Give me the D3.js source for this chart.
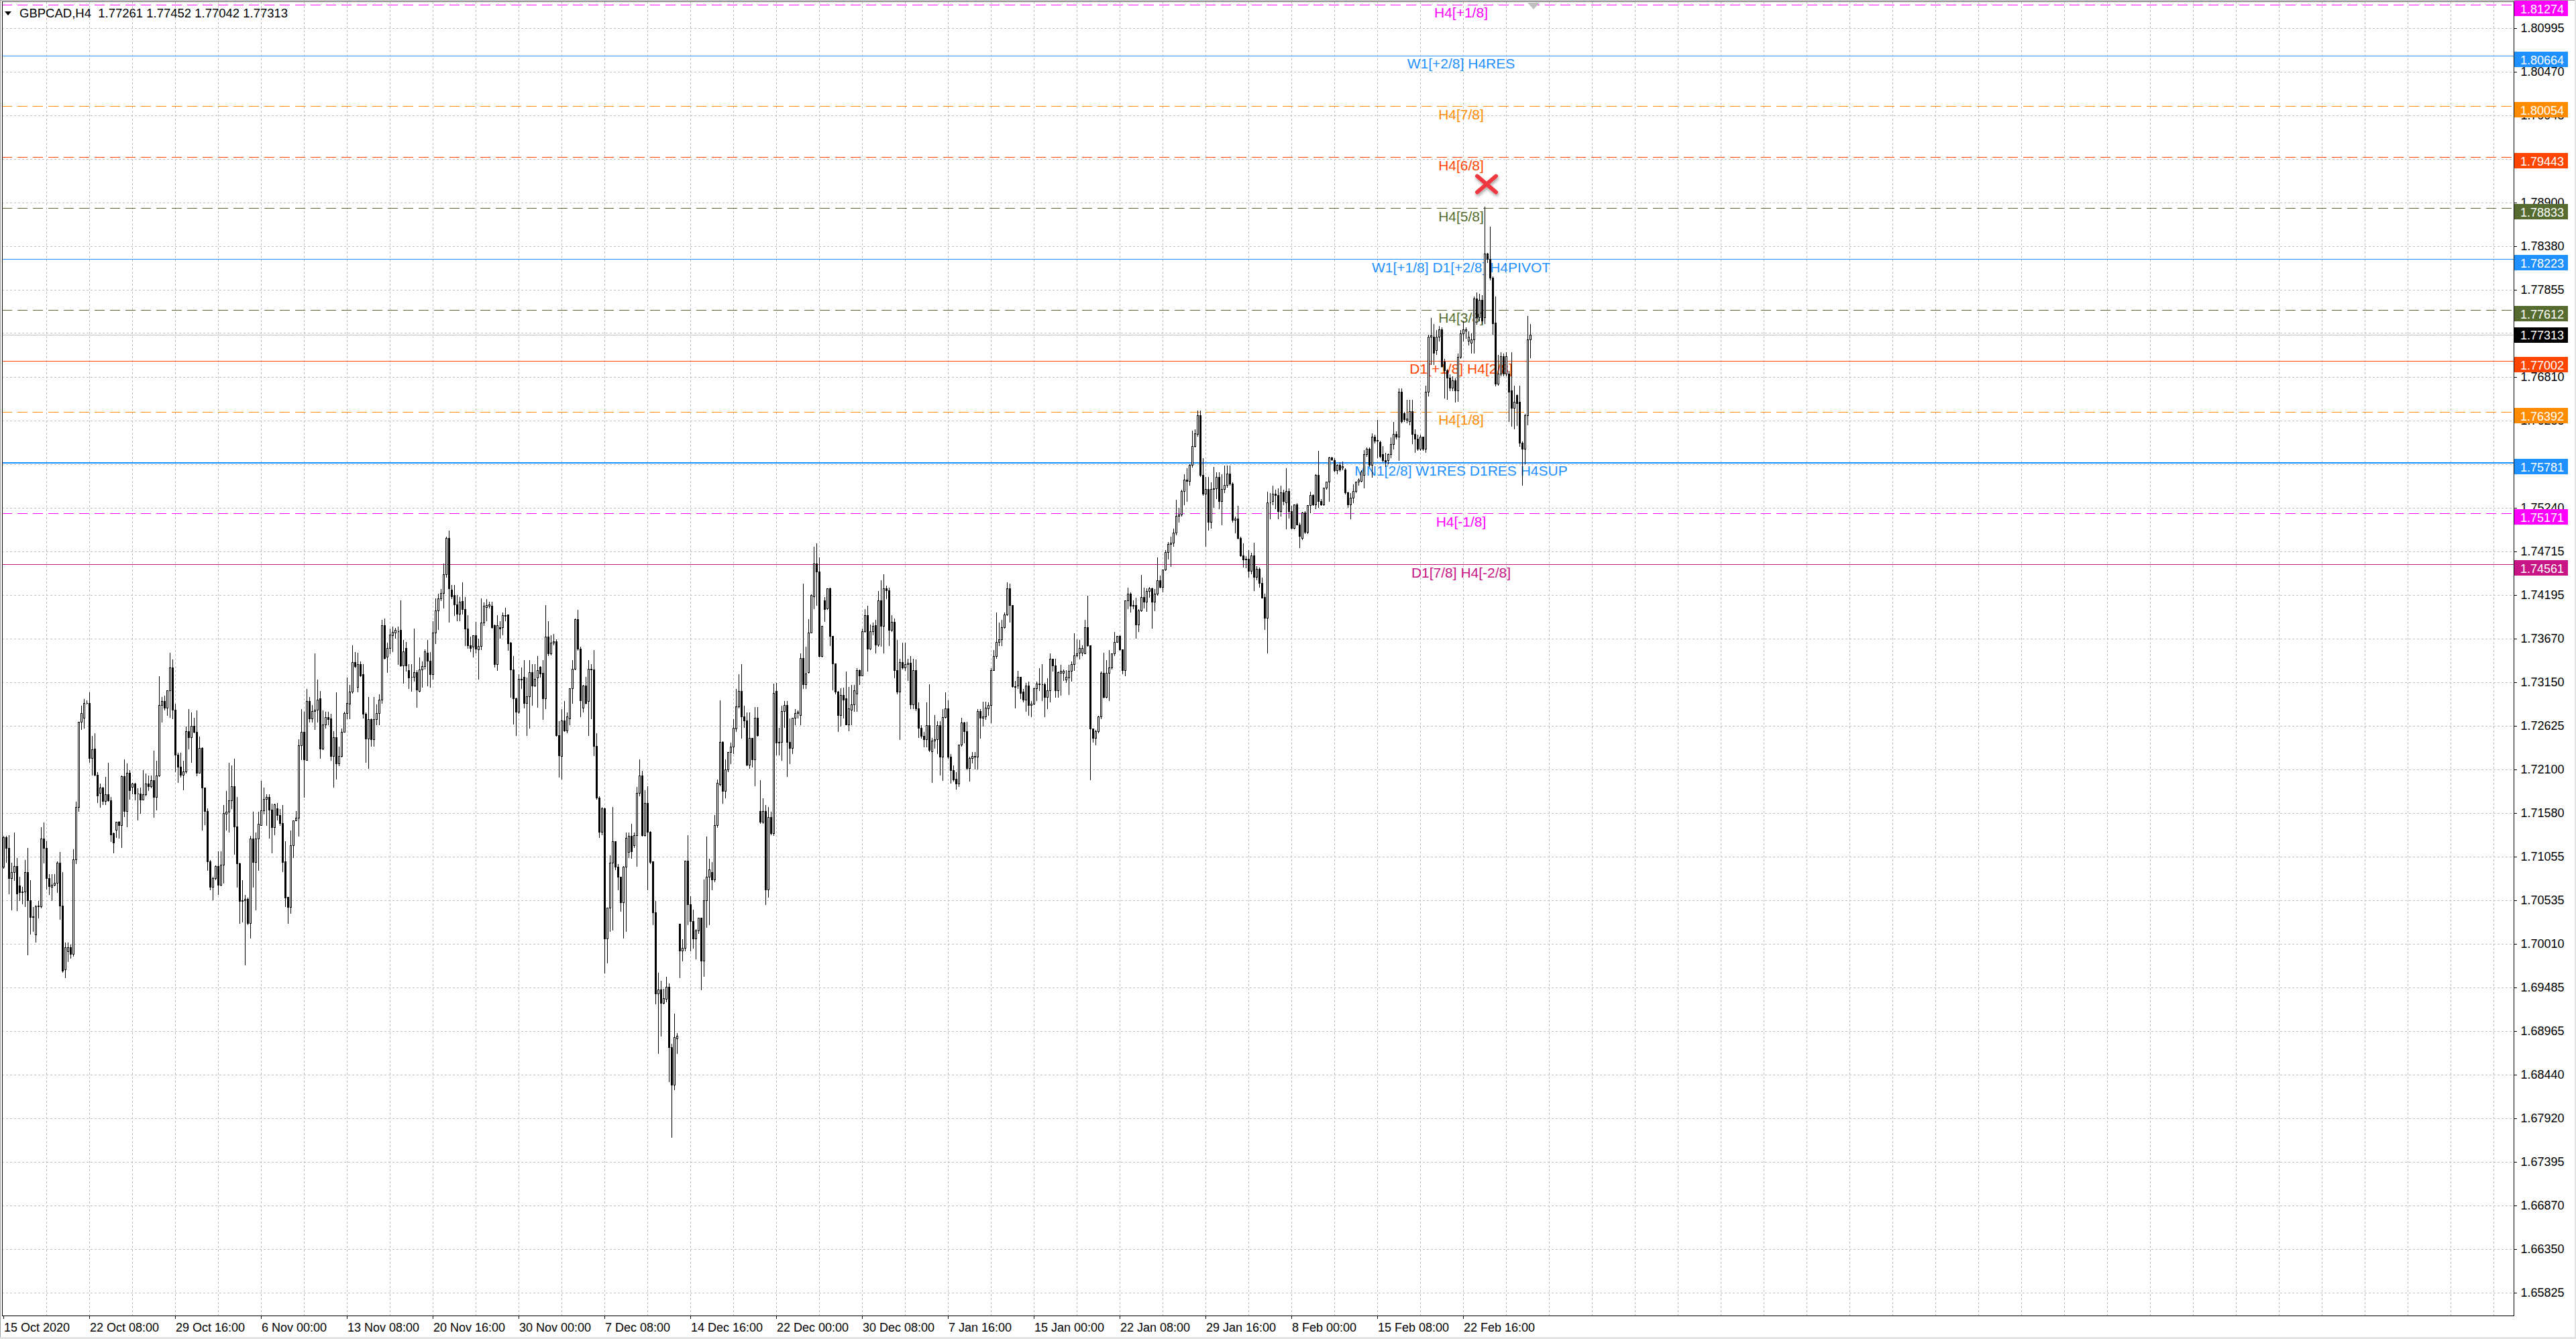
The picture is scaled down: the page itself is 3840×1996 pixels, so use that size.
<!DOCTYPE html>
<html>
<head>
<meta charset="utf-8">
<script src="https://cdn.jsdelivr.net/npm/d3@7"></script>
<style>
  body { margin: 0; background: #fff; }
</style>
</head>
<body>
<div id="chart"></div>
<script>
// GBPCAD H4 candles, [open, high, low, close]
var candles = [
[1.7093,1.7131,1.7092,1.7129],[1.7129,1.7131,1.7099,1.7116],[1.7116,1.7132,1.7061,1.7080],[1.7080,1.7099,1.7042,1.7087],[1.7087,1.7135,1.7077,1.7094],[1.7094,1.7105,1.7041,1.7061],
[1.7071,1.7082,1.7053,1.7063],[1.7063,1.7070,1.7049,1.7064],[1.7064,1.7102,1.7046,1.7087],[1.7087,1.7117,1.6988,1.7053],[1.7053,1.7078,1.7013,1.7033],[1.7033,1.7046,1.7016,1.7034],
[1.7012,1.7048,1.7003,1.7046],[1.7046,1.7053,1.7032,1.7047],[1.7046,1.7142,1.7044,1.7127],[1.7127,1.7147,1.7098,1.7116],[1.7116,1.7125,1.7067,1.7080],[1.7080,1.7085,1.7060,1.7070],
[1.7069,1.7085,1.7053,1.7072],[1.7072,1.7085,1.7071,1.7074],[1.7074,1.7101,1.7063,1.7098],[1.7098,1.7112,1.7031,1.7047],[1.7047,1.7088,1.6967,1.6969],[1.6970,1.7003,1.6961,1.6997],
[1.6992,1.7003,1.6980,1.6997],[1.6997,1.7001,1.6984,1.6989],[1.6989,1.7115,1.6986,1.7102],[1.7102,1.7172,1.7097,1.7165],[1.7165,1.7268,1.7160,1.7267],[1.7267,1.7287,1.7258,1.7278],
[1.7272,1.7295,1.7260,1.7290],[1.7290,1.7294,1.7289,1.7290],[1.7290,1.7303,1.7219,1.7224],[1.7224,1.7251,1.7204,1.7234],[1.7235,1.7254,1.7203,1.7204],[1.7204,1.7208,1.7171,1.7179],
[1.7182,1.7194,1.7165,1.7188],[1.7188,1.7190,1.7168,1.7172],[1.7172,1.7202,1.7168,1.7180],[1.7180,1.7219,1.7172,1.7173],[1.7173,1.7178,1.7124,1.7132],[1.7134,1.7135,1.7110,1.7122],
[1.7138,1.7147,1.7129,1.7147],[1.7147,1.7149,1.7128,1.7143],[1.7143,1.7204,1.7117,1.7202],[1.7202,1.7223,1.7154,1.7160],[1.7160,1.7218,1.7142,1.7206],[1.7206,1.7210,1.7175,1.7185],
[1.7189,1.7195,1.7181,1.7193],[1.7193,1.7195,1.7174,1.7181],[1.7181,1.7188,1.7150,1.7181],[1.7181,1.7189,1.7158,1.7174],[1.7174,1.7210,1.7174,1.7180],[1.7180,1.7206,1.7179,1.7193],
[1.7193,1.7204,1.7185,1.7190],[1.7190,1.7204,1.7188,1.7197],[1.7197,1.7233,1.7153,1.7177],[1.7177,1.7221,1.7162,1.7203],[1.7203,1.7323,1.7202,1.7287],[1.7287,1.7298,1.7267,1.7292],
[1.7292,1.7299,1.7282,1.7284],[1.7284,1.7305,1.7275,1.7305],[1.7305,1.7351,1.7273,1.7332],[1.7332,1.7343,1.7271,1.7282],[1.7282,1.7290,1.7208,1.7228],[1.7228,1.7231,1.7195,1.7213],
[1.7213,1.7231,1.7201,1.7204],[1.7204,1.7221,1.7186,1.7208],[1.7208,1.7262,1.7206,1.7256],[1.7256,1.7283,1.7235,1.7249],[1.7249,1.7279,1.7219,1.7262],[1.7262,1.7273,1.7254,1.7255],
[1.7255,1.7282,1.7203,1.7206],[1.7206,1.7250,1.7206,1.7236],[1.7236,1.7237,1.7138,1.7188],[1.7188,1.7189,1.7144,1.7160],[1.7160,1.7164,1.7089,1.7100],[1.7100,1.7102,1.7066,1.7069],
[1.7069,1.7082,1.7054,1.7080],[1.7080,1.7096,1.7078,1.7094],[1.7094,1.7113,1.7060,1.7072],[1.7072,1.7113,1.7071,1.7096],[1.7096,1.7168,1.7074,1.7158],[1.7157,1.7185,1.7138,1.7159],
[1.7159,1.7219,1.7135,1.7173],[1.7173,1.7216,1.7163,1.7190],[1.7190,1.7224,1.7109,1.7142],[1.7142,1.7178,1.7069,1.7097],[1.7097,1.7099,1.7026,1.7052],[1.7052,1.7078,1.7027,1.7053],
[1.7053,1.7060,1.6976,1.7055],[1.7055,1.7057,1.7024,1.7026],[1.7026,1.7131,1.7008,1.7127],[1.7127,1.7160,1.7069,1.7099],[1.7099,1.7135,1.7042,1.7127],[1.7127,1.7160,1.7089,1.7145],
[1.7143,1.7197,1.7143,1.7161],[1.7161,1.7189,1.7157,1.7175],[1.7175,1.7181,1.7143,1.7177],[1.7177,1.7181,1.7128,1.7162],[1.7162,1.7170,1.7110,1.7141],[1.7141,1.7170,1.7132,1.7168],
[1.7163,1.7171,1.7150,1.7155],[1.7155,1.7163,1.7143,1.7146],[1.7146,1.7168,1.7088,1.7099],[1.7100,1.7125,1.7046,1.7056],[1.7057,1.7057,1.7026,1.7045],[1.7045,1.7138,1.7038,1.7119],
[1.7119,1.7150,1.7105,1.7149],[1.7149,1.7161,1.7149,1.7152],[1.7152,1.7247,1.7130,1.7239],[1.7239,1.7283,1.7222,1.7255],[1.7255,1.7280,1.7177,1.7222],[1.7221,1.7307,1.7221,1.7292],
[1.7292,1.7298,1.7267,1.7271],[1.7271,1.7288,1.7267,1.7280],[1.7280,1.7350,1.7258,1.7282],[1.7282,1.7319,1.7267,1.7294],[1.7295,1.7305,1.7224,1.7235],[1.7235,1.7282,1.7234,1.7264],
[1.7264,1.7280,1.7260,1.7273],[1.7273,1.7280,1.7264,1.7270],[1.7271,1.7278,1.7221,1.7226],[1.7226,1.7257,1.7189,1.7249],[1.7249,1.7303,1.7199,1.7217],[1.7217,1.7238,1.7215,1.7226],
[1.7226,1.7260,1.7225,1.7255],[1.7255,1.7280,1.7255,1.7278],[1.7278,1.7321,1.7271,1.7290],[1.7289,1.7312,1.7271,1.7303],[1.7303,1.7360,1.7302,1.7339],[1.7339,1.7352,1.7332,1.7334],
[1.7309,1.7351,1.7303,1.7336],[1.7336,1.7340,1.7322,1.7323],[1.7324,1.7337,1.7272,1.7277],[1.7277,1.7279,1.7219,1.7247],[1.7247,1.7298,1.7212,1.7270],[1.7270,1.7272,1.7238,1.7246],
[1.7246,1.7298,1.7238,1.7270],[1.7270,1.7289,1.7264,1.7278],[1.7278,1.7301,1.7264,1.7294],[1.7294,1.7390,1.7290,1.7383],[1.7383,1.7392,1.7343,1.7344],[1.7345,1.7363,1.7327,1.7356],
[1.7356,1.7380,1.7349,1.7372],[1.7371,1.7382,1.7352,1.7375],[1.7374,1.7381,1.7368,1.7377],[1.7376,1.7382,1.7336,1.7376],[1.7377,1.7414,1.7334,1.7335],[1.7335,1.7366,1.7314,1.7352],
[1.7356,1.7364,1.7328,1.7335],[1.7329,1.7337,1.7307,1.7320],[1.7321,1.7337,1.7304,1.7321],[1.7321,1.7380,1.7316,1.7327],[1.7327,1.7330,1.7285,1.7306],[1.7304,1.7345,1.7303,1.7330],
[1.7330,1.7340,1.7309,1.7334],[1.7334,1.7355,1.7331,1.7352],[1.7350,1.7366,1.7311,1.7340],[1.7340,1.7352,1.7309,1.7324],[1.7324,1.7389,1.7319,1.7374],[1.7374,1.7416,1.7361,1.7401],
[1.7401,1.7422,1.7378,1.7415],[1.7415,1.7427,1.7413,1.7422],[1.7422,1.7458,1.7404,1.7444],[1.7444,1.7490,1.7441,1.7488],[1.7488,1.7497,1.7387,1.7427],[1.7426,1.7432,1.7415,1.7418],
[1.7419,1.7432,1.7395,1.7408],[1.7408,1.7420,1.7389,1.7397],[1.7397,1.7418,1.7389,1.7411],[1.7412,1.7435,1.7397,1.7402],[1.7402,1.7418,1.7359,1.7379],[1.7379,1.7396,1.7356,1.7359],
[1.7359,1.7370,1.7352,1.7356],[1.7357,1.7371,1.7345,1.7371],[1.7371,1.7388,1.7350,1.7355],[1.7354,1.7368,1.7319,1.7358],[1.7358,1.7416,1.7354,1.7386],[1.7386,1.7411,1.7383,1.7406],
[1.7405,1.7415,1.7389,1.7407],[1.7406,1.7412,1.7404,1.7408],[1.7406,1.7412,1.7380,1.7381],[1.7383,1.7385,1.7333,1.7336],[1.7336,1.7396,1.7329,1.7383],[1.7381,1.7389,1.7368,1.7379],
[1.7381,1.7399,1.7372,1.7395],[1.7394,1.7405,1.7389,1.7395],[1.7396,1.7397,1.7353,1.7361],[1.7362,1.7364,1.7297,1.7330],[1.7330,1.7347,1.7265,1.7295],[1.7295,1.7297,1.7251,1.7279],
[1.7279,1.7325,1.7278,1.7319],[1.7319,1.7333,1.7307,1.7318],[1.7321,1.7342,1.7284,1.7290],[1.7290,1.7321,1.7251,1.7298],[1.7298,1.7342,1.7260,1.7327],[1.7327,1.7337,1.7287,1.7311],
[1.7311,1.7337,1.7310,1.7319],[1.7320,1.7347,1.7285,1.7329],[1.7333,1.7335,1.7321,1.7325],[1.7326,1.7342,1.7270,1.7295],[1.7295,1.7408,1.7283,1.7369],[1.7369,1.7389,1.7347,1.7349],
[1.7349,1.7372,1.7348,1.7362],[1.7362,1.7373,1.7360,1.7364],[1.7364,1.7367,1.7250,1.7251],[1.7251,1.7269,1.7201,1.7227],[1.7226,1.7283,1.7199,1.7269],[1.7269,1.7293,1.7256,1.7257],
[1.7257,1.7279,1.7254,1.7274],[1.7271,1.7308,1.7264,1.7307],[1.7307,1.7342,1.7290,1.7331],[1.7331,1.7392,1.7330,1.7390],[1.7390,1.7402,1.7353,1.7355],[1.7355,1.7358,1.7274,1.7293],
[1.7284,1.7312,1.7279,1.7311],[1.7311,1.7322,1.7289,1.7290],[1.7292,1.7342,1.7251,1.7331],[1.7330,1.7337,1.7271,1.7331],[1.7330,1.7354,1.7227,1.7238],[1.7238,1.7254,1.7175,1.7176],
[1.7176,1.7179,1.7129,1.7135],[1.7135,1.7166,1.7132,1.7163],[1.7163,1.7165,1.6966,1.7007],[1.7007,1.7045,1.6978,1.7044],[1.7044,1.7108,1.7016,1.7098],[1.7098,1.7166,1.7018,1.7124],
[1.7124,1.7124,1.7090,1.7093],[1.7093,1.7097,1.7066,1.7081],[1.7081,1.7081,1.7040,1.7051],[1.7051,1.7095,1.7008,1.7093],[1.7093,1.7135,1.7016,1.7128],[1.7111,1.7135,1.7105,1.7130],
[1.7130,1.7146,1.7104,1.7112],[1.7119,1.7135,1.7117,1.7131],[1.7131,1.7190,1.7094,1.7182],[1.7182,1.7223,1.7179,1.7203],[1.7203,1.7209,1.7130,1.7131],[1.7131,1.7186,1.7130,1.7170],
[1.7170,1.7191,1.7066,1.7135],[1.7135,1.7137,1.7097,1.7099],[1.7100,1.7101,1.7024,1.7039],[1.7039,1.7053,1.6929,1.6941],[1.6941,1.6967,1.6870,1.6946],[1.6946,1.6957,1.6891,1.6930],
[1.6930,1.6948,1.6929,1.6936],[1.6935,1.6962,1.6932,1.6949],[1.6949,1.6954,1.6836,1.6877],[1.6877,1.6882,1.6769,1.6832],[1.6832,1.6918,1.6826,1.6889],[1.6887,1.6895,1.6870,1.6891],
[1.7025,1.7026,1.6961,1.6993],[1.6993,1.7007,1.6981,1.6996],[1.6996,1.7101,1.6993,1.7101],[1.7101,1.7132,1.7024,1.7048],[1.7048,1.7059,1.6993,1.7028],[1.7028,1.7043,1.6996,1.7007],
[1.7007,1.7019,1.6983,1.7017],[1.7017,1.7033,1.7014,1.7032],[1.7032,1.7033,1.6946,1.6981],[1.6981,1.7079,1.6962,1.7053],[1.7053,1.7130,1.7021,1.7081],[1.7081,1.7104,1.7024,1.7090],
[1.7087,1.7100,1.7066,1.7078],[1.7078,1.7156,1.7076,1.7143],[1.7143,1.7199,1.7141,1.7194],[1.7192,1.7294,1.7191,1.7243],[1.7243,1.7245,1.7170,1.7184],[1.7184,1.7223,1.7176,1.7210],
[1.7210,1.7232,1.7208,1.7231],[1.7231,1.7243,1.7217,1.7237],[1.7237,1.7271,1.7229,1.7260],[1.7259,1.7307,1.7256,1.7286],[1.7286,1.7325,1.7284,1.7304],[1.7304,1.7337,1.7248,1.7274],
[1.7274,1.7287,1.7261,1.7269],[1.7269,1.7279,1.7215,1.7216],[1.7216,1.7279,1.7212,1.7248],[1.7248,1.7248,1.7213,1.7222],[1.7222,1.7286,1.7191,1.7272],[1.7272,1.7286,1.7250,1.7251],
[1.7160,1.7198,1.7146,1.7147],[1.7147,1.7176,1.7146,1.7160],[1.7160,1.7168,1.7048,1.7066],[1.7066,1.7166,1.7057,1.7153],[1.7153,1.7160,1.7132,1.7134],[1.7134,1.7314,1.7131,1.7302],
[1.7304,1.7315,1.7228,1.7242],[1.7242,1.7261,1.7228,1.7243],[1.7243,1.7287,1.7221,1.7280],[1.7280,1.7293,1.7261,1.7287],[1.7287,1.7293,1.7202,1.7243],[1.7243,1.7272,1.7217,1.7236],
[1.7236,1.7273,1.7229,1.7272],[1.7272,1.7283,1.7264,1.7278],[1.7278,1.7282,1.7272,1.7279],[1.7275,1.7350,1.7264,1.7344],[1.7344,1.7434,1.7307,1.7312],[1.7312,1.7358,1.7307,1.7325],
[1.7327,1.7391,1.7326,1.7374],[1.7374,1.7421,1.7374,1.7419],[1.7418,1.7478,1.7403,1.7457],[1.7457,1.7482,1.7407,1.7447],[1.7447,1.7465,1.7345,1.7346],[1.7346,1.7382,1.7345,1.7382],
[1.7413,1.7418,1.7388,1.7402],[1.7403,1.7427,1.7402,1.7427],[1.7427,1.7429,1.7359,1.7370],[1.7370,1.7371,1.7306,1.7337],[1.7337,1.7337,1.7301,1.7303],[1.7303,1.7305,1.7256,1.7275],
[1.7275,1.7308,1.7262,1.7299],[1.7299,1.7309,1.7272,1.7294],[1.7295,1.7328,1.7264,1.7264],[1.7264,1.7310,1.7257,1.7283],[1.7282,1.7312,1.7264,1.7288],[1.7288,1.7312,1.7280,1.7305],
[1.7301,1.7332,1.7280,1.7329],[1.7329,1.7331,1.7312,1.7323],[1.7323,1.7380,1.7323,1.7376],[1.7376,1.7403,1.7375,1.7395],[1.7395,1.7407,1.7328,1.7355],[1.7355,1.7385,1.7354,1.7376],
[1.7376,1.7387,1.7372,1.7382],[1.7383,1.7390,1.7350,1.7360],[1.7360,1.7425,1.7358,1.7413],[1.7413,1.7438,1.7358,1.7382],[1.7382,1.7445,1.7350,1.7427],[1.7427,1.7431,1.7415,1.7425],
[1.7425,1.7429,1.7359,1.7377],[1.7377,1.7396,1.7376,1.7387],[1.7387,1.7392,1.7320,1.7329],[1.7329,1.7366,1.7301,1.7303],[1.7303,1.7344,1.7246,1.7339],[1.7339,1.7363,1.7331,1.7332],
[1.7332,1.7363,1.7329,1.7336],[1.7336,1.7344,1.7317,1.7338],[1.7338,1.7347,1.7283,1.7288],[1.7288,1.7344,1.7283,1.7329],[1.7329,1.7343,1.7281,1.7283],[1.7283,1.7291,1.7249,1.7260],
[1.7260,1.7264,1.7248,1.7250],[1.7250,1.7256,1.7237,1.7246],[1.7246,1.7291,1.7237,1.7263],[1.7263,1.7313,1.7232,1.7233],[1.7232,1.7249,1.7195,1.7245],[1.7245,1.7276,1.7236,1.7246],
[1.7246,1.7269,1.7229,1.7263],[1.7263,1.7269,1.7204,1.7225],[1.7225,1.7283,1.7197,1.7273],[1.7273,1.7303,1.7272,1.7283],[1.7283,1.7294,1.7224,1.7225],[1.7225,1.7229,1.7194,1.7209],
[1.7209,1.7216,1.7196,1.7198],[1.7199,1.7208,1.7187,1.7193],[1.7193,1.7241,1.7190,1.7240],[1.7240,1.7273,1.7238,1.7266],[1.7266,1.7268,1.7242,1.7256],[1.7256,1.7268,1.7210,1.7212],
[1.7212,1.7226,1.7196,1.7224],[1.7224,1.7232,1.7218,1.7226],[1.7225,1.7232,1.7211,1.7226],[1.7225,1.7283,1.7211,1.7280],[1.7280,1.7283,1.7248,1.7272],[1.7272,1.7292,1.7262,1.7274],
[1.7274,1.7292,1.7270,1.7284],[1.7283,1.7291,1.7275,1.7287],[1.7287,1.7332,1.7266,1.7329],[1.7329,1.7354,1.7329,1.7346],[1.7346,1.7399,1.7344,1.7363],[1.7363,1.7387,1.7359,1.7366],
[1.7366,1.7390,1.7359,1.7381],[1.7381,1.7399,1.7380,1.7396],[1.7396,1.7435,1.7395,1.7427],[1.7427,1.7434,1.7387,1.7407],[1.7407,1.7408,1.7309,1.7310],[1.7310,1.7317,1.7284,1.7309],
[1.7311,1.7329,1.7307,1.7321],[1.7321,1.7321,1.7295,1.7302],[1.7303,1.7307,1.7291,1.7294],[1.7294,1.7315,1.7280,1.7311],[1.7311,1.7316,1.7275,1.7287],[1.7287,1.7293,1.7274,1.7289],
[1.7289,1.7309,1.7288,1.7307],[1.7307,1.7316,1.7293,1.7313],[1.7313,1.7332,1.7305,1.7312],[1.7312,1.7337,1.7293,1.7312],[1.7312,1.7315,1.7274,1.7297],[1.7297,1.7320,1.7283,1.7305],
[1.7305,1.7350,1.7291,1.7343],[1.7343,1.7344,1.7328,1.7335],[1.7335,1.7344,1.7297,1.7305],[1.7305,1.7328,1.7297,1.7327],[1.7326,1.7336,1.7299,1.7328],[1.7326,1.7331,1.7317,1.7328],
[1.7318,1.7330,1.7315,1.7321],[1.7320,1.7336,1.7300,1.7328],[1.7328,1.7340,1.7316,1.7336],[1.7336,1.7374,1.7329,1.7347],[1.7347,1.7367,1.7345,1.7349],[1.7350,1.7366,1.7343,1.7356],
[1.7350,1.7360,1.7347,1.7356],[1.7349,1.7390,1.7349,1.7381],[1.7381,1.7419,1.7358,1.7359],[1.7359,1.7360,1.7198,1.7259],[1.7259,1.7260,1.7243,1.7248],[1.7248,1.7258,1.7240,1.7256],
[1.7256,1.7275,1.7254,1.7274],[1.7274,1.7328,1.7271,1.7326],[1.7326,1.7351,1.7296,1.7297],[1.7297,1.7342,1.7296,1.7326],[1.7326,1.7354,1.7293,1.7332],[1.7332,1.7350,1.7331,1.7349],
[1.7349,1.7376,1.7347,1.7363],[1.7363,1.7371,1.7363,1.7370],[1.7370,1.7372,1.7353,1.7354],[1.7354,1.7355,1.7325,1.7329],[1.7329,1.7414,1.7323,1.7413],[1.7413,1.7429,1.7403,1.7421],
[1.7421,1.7423,1.7399,1.7406],[1.7406,1.7414,1.7403,1.7407],[1.7407,1.7417,1.7368,1.7384],[1.7384,1.7403,1.7376,1.7401],[1.7401,1.7444,1.7400,1.7417],[1.7417,1.7429,1.7404,1.7411],
[1.7411,1.7428,1.7400,1.7424],[1.7424,1.7430,1.7417,1.7427],[1.7427,1.7429,1.7380,1.7411],[1.7411,1.7427,1.7401,1.7421],[1.7421,1.7465,1.7419,1.7437],[1.7437,1.7443,1.7428,1.7429],
[1.7429,1.7451,1.7423,1.7450],[1.7450,1.7474,1.7449,1.7471],[1.7471,1.7484,1.7463,1.7480],[1.7480,1.7490,1.7454,1.7482],[1.7482,1.7500,1.7478,1.7494],[1.7494,1.7534,1.7492,1.7514],
[1.7514,1.7525,1.7507,1.7516],[1.7516,1.7546,1.7514,1.7544],[1.7544,1.7565,1.7528,1.7558],[1.7558,1.7572,1.7532,1.7556],[1.7556,1.7577,1.7551,1.7575],[1.7575,1.7617,1.7573,1.7598],
[1.7598,1.7619,1.7597,1.7613],[1.7612,1.7641,1.7610,1.7635],[1.7635,1.7641,1.7562,1.7563],[1.7563,1.7584,1.7539,1.7541],[1.7541,1.7562,1.7478,1.7546],[1.7546,1.7562,1.7497,1.7507],
[1.7507,1.7555,1.7500,1.7546],[1.7546,1.7574,1.7525,1.7547],[1.7547,1.7567,1.7535,1.7561],[1.7561,1.7567,1.7523,1.7532],[1.7532,1.7565,1.7504,1.7546],[1.7546,1.7575,1.7542,1.7551],
[1.7551,1.7575,1.7549,1.7565],[1.7565,1.7575,1.7551,1.7553],[1.7553,1.7555,1.7507,1.7509],[1.7509,1.7514,1.7494,1.7511],[1.7511,1.7527,1.7487,1.7488],[1.7488,1.7490,1.7466,1.7467],
[1.7467,1.7482,1.7453,1.7462],[1.7462,1.7467,1.7452,1.7463],[1.7463,1.7474,1.7441,1.7448],[1.7448,1.7471,1.7445,1.7467],[1.7467,1.7483,1.7425,1.7441],[1.7441,1.7455,1.7438,1.7451],
[1.7451,1.7453,1.7429,1.7434],[1.7434,1.7441,1.7416,1.7416],[1.7417,1.7422,1.7378,1.7392],[1.7392,1.7544,1.7350,1.7530],[1.7530,1.7542,1.7511,1.7530],[1.7532,1.7551,1.7528,1.7541],
[1.7541,1.7546,1.7523,1.7539],[1.7539,1.7548,1.7511,1.7520],[1.7520,1.7551,1.7514,1.7542],[1.7542,1.7546,1.7528,1.7532],[1.7530,1.7572,1.7499,1.7544],[1.7544,1.7548,1.7512,1.7520],
[1.7520,1.7527,1.7499,1.7500],[1.7500,1.7528,1.7499,1.7528],[1.7528,1.7530,1.7504,1.7504],[1.7504,1.7507,1.7476,1.7490],[1.7488,1.7520,1.7486,1.7518],[1.7518,1.7521,1.7493,1.7495],
[1.7495,1.7528,1.7493,1.7527],[1.7527,1.7544,1.7518,1.7539],[1.7539,1.7541,1.7527,1.7528],[1.7528,1.7565,1.7523,1.7563],[1.7563,1.7593,1.7525,1.7532],[1.7532,1.7535,1.7527,1.7528],
[1.7528,1.7549,1.7527,1.7548],[1.7548,1.7556,1.7546,1.7555],[1.7555,1.7586,1.7532,1.7584],[1.7584,1.7586,1.7581,1.7582],[1.7581,1.7584,1.7567,1.7569],[1.7569,1.7577,1.7565,1.7575],
[1.7575,1.7579,1.7568,1.7570],[1.7572,1.7580,1.7570,1.7574],[1.7570,1.7572,1.7541,1.7542],[1.7542,1.7544,1.7525,1.7528],[1.7528,1.7542,1.7511,1.7536],[1.7536,1.7553,1.7530,1.7544],
[1.7544,1.7556,1.7542,1.7555],[1.7555,1.7560,1.7551,1.7558],[1.7556,1.7570,1.7555,1.7567],[1.7563,1.7594,1.7548,1.7588],[1.7588,1.7597,1.7586,1.7595],[1.7595,1.7597,1.7574,1.7575],
[1.7575,1.7614,1.7561,1.7609],[1.7609,1.7612,1.7602,1.7604],[1.7604,1.7630,1.7584,1.7605],[1.7603,1.7605,1.7584,1.7586],[1.7588,1.7599,1.7579,1.7581],[1.7581,1.7591,1.7574,1.7579],
[1.7581,1.7590,1.7577,1.7588],[1.7588,1.7609,1.7584,1.7600],[1.7600,1.7628,1.7595,1.7612],[1.7612,1.7616,1.7607,1.7609],[1.7609,1.7668,1.7581,1.7663],[1.7663,1.7668,1.7626,1.7628],
[1.7637,1.7640,1.7628,1.7630],[1.7629,1.7654,1.7626,1.7631],[1.7628,1.7654,1.7624,1.7640],[1.7640,1.7654,1.7601,1.7612],[1.7612,1.7619,1.7591,1.7607],[1.7607,1.7612,1.7593,1.7595],
[1.7595,1.7612,1.7593,1.7609],[1.7609,1.7610,1.7593,1.7595],[1.7595,1.7671,1.7591,1.7663],[1.7663,1.7732,1.7658,1.7729],[1.7729,1.7752,1.7696,1.7731],[1.7729,1.7745,1.7696,1.7710],
[1.7713,1.7738,1.7708,1.7729],[1.7729,1.7743,1.7724,1.7738],[1.7738,1.7741,1.7693,1.7694],[1.7699,1.7703,1.7656,1.7689],[1.7689,1.7691,1.7654,1.7680],[1.7680,1.7685,1.7665,1.7668],
[1.7668,1.7682,1.7665,1.7677],[1.7677,1.7680,1.7651,1.7665],[1.7665,1.7710,1.7652,1.7705],[1.7705,1.7738,1.7703,1.7733],[1.7733,1.7748,1.7724,1.7738],[1.7736,1.7741,1.7727,1.7738],
[1.7724,1.7736,1.7719,1.7729],[1.7722,1.7734,1.7710,1.7726],[1.7726,1.7778,1.7710,1.7775],[1.7775,1.7783,1.7744,1.7752],[1.7752,1.7781,1.7748,1.7773],[1.7773,1.7780,1.7745,1.7748],
[1.7752,1.7886,1.7745,1.7829],[1.7829,1.7830,1.7818,1.7822],[1.7822,1.7862,1.7797,1.7800],[1.7800,1.7802,1.7732,1.7745],[1.7746,1.7778,1.7670,1.7673],[1.7673,1.7708,1.7671,1.7685],
[1.7685,1.7711,1.7682,1.7706],[1.7706,1.7710,1.7682,1.7685],[1.7685,1.7711,1.7682,1.7706],[1.7685,1.7689,1.7628,1.7663],[1.7665,1.7711,1.7622,1.7644],[1.7644,1.7671,1.7619,1.7651],
[1.7659,1.7661,1.7623,1.7649],[1.7651,1.7671,1.7598,1.7602],[1.7602,1.7604,1.7551,1.7595],[1.7595,1.7637,1.7577,1.7635],[1.7635,1.7755,1.7624,1.7726],[1.77261,1.77452,1.77042,1.77313]
];

var symbolName = "GBPCAD,H4";

// bottom axis: one label every 32 bars
var timeLabels = ["15 Oct 2020", "22 Oct 08:00", "29 Oct 16:00", "6 Nov 00:00", "13 Nov 08:00", "20 Nov 16:00",
  "30 Nov 00:00", "7 Dec 08:00", "14 Dec 16:00", "22 Dec 00:00", "30 Dec 08:00", "7 Jan 16:00",
  "15 Jan 00:00", "22 Jan 08:00", "29 Jan 16:00", "8 Feb 00:00", "15 Feb 08:00", "22 Feb 16:00"];
var barsPerLabel = 32;
var barsPerGrid = 16;

var priceTicks = [1.80995, 1.80470, 1.79945, 1.79420, 1.78900, 1.78380, 1.77855, 1.77335, 1.76810, 1.76285,
  1.75765, 1.75240, 1.74715, 1.74195, 1.73670, 1.73150, 1.72625, 1.72100, 1.71580, 1.71055,
  1.70535, 1.70010, 1.69485, 1.68965, 1.68440, 1.67920, 1.67395, 1.66870, 1.66350, 1.65825];

// Murrey math levels
var levelPrices = [1.81274, 1.80664, 1.80054, 1.79443, 1.78833, 1.78223, 1.77612, 1.77002, 1.76392, 1.75781, 1.75171, 1.74561];
var levelNames = ["H4[+1/8]", "W1[+2/8] H4RES", "H4[7/8]", "H4[6/8]", "H4[5/8]", "W1[+1/8] D1[+2/8] H4PIVOT",
  "H4[3/8]", "D1[+1/8] H4[2/8]", "H4[1/8]", "MN1[2/8] W1RES D1RES H4SUP", "H4[-1/8]", "D1[7/8] H4[-2/8]"];

// the red cross marker near the top
var markerBar = 552.75, markerPrice = 1.7912;

// styles of the levels
var levelColors = ["#ff00ff", "#1e90ff", "#ff8c00", "#ff4500", "#556b2f", "#1e90ff",
  "#556b2f", "#ff4500", "#ff8c00", "#1e90ff", "#ff00ff", "#c71585"];
var levelDashed = [true, false, true, true, true, false, true, false, true, false, true, false];
var levelWidth = [1, 1, 1, 1, 1, 1, 1, 1, 1, 2, 1, 1];

function init() {
    var w = 3840;
    var h = 1996;
    var plot = {left: 3, top: 3, right: 3747, bottom: 1961};
    var firstBarX = 5, barStep = 4;
    var font = "'Liberation Sans', Arial, sans-serif";

    var svg = d3.select("#chart")
        .append("svg")
        .attr("width", w)
        .attr("height", h)
        .style("display", "block")
        .attr("font-family", font);

    svg.append("rect").attr("width", w).attr("height", h).attr("fill", "#ffffff");

    // scales
    var xScale = d3.scaleLinear()
        .domain([0, (plot.right - firstBarX) / barStep])
        .range([firstBarX, plot.right]);

    var yScale = d3.scaleLinear()
        .domain([1.65551, 1.81305])
        .range([plot.bottom, plot.top]);

    var py = d => Math.round(yScale(d)) + 0.5;

    // grid
    var grid = svg.append("g")
        .attr("stroke", "#c0c0c0")
        .attr("stroke-dasharray", "3,3")
        .attr("shape-rendering", "crispEdges");

    grid.selectAll("line.hgrid")
        .data(priceTicks)
        .enter()
        .append("line")
        .attr("class", "hgrid")
        .attr("x1", plot.left)
        .attr("x2", plot.right)
        .attr("y1", py)
        .attr("y2", py);

    grid.selectAll("line.vgrid")
        .data(d3.range(barsPerGrid, xScale.domain()[1], barsPerGrid))
        .enter()
        .append("line")
        .attr("class", "vgrid")
        .attr("x1", d => xScale(d) + 0.5)
        .attr("x2", d => xScale(d) + 0.5)
        .attr("y1", plot.top)
        .attr("y2", plot.bottom);

    // level lines
    var levels = svg.append("g").attr("shape-rendering", "crispEdges");
    levels.selectAll("line")
        .data(levelPrices)
        .enter()
        .append("line")
        .attr("x1", plot.left)
        .attr("x2", plot.right)
        .attr("y1", (d, i) => levelWidth[i] === 2 ? Math.round(yScale(d)) : py(d))
        .attr("y2", (d, i) => levelWidth[i] === 2 ? Math.round(yScale(d)) : py(d))
        .attr("stroke", (d, i) => levelColors[i])
        .attr("stroke-width", (d, i) => levelWidth[i])
        .attr("stroke-dasharray", (d, i) => levelDashed[i] ? "15,8" : null);

    // current price line
    var lastClose = candles[candles.length - 1][3];
    svg.append("line")
        .attr("x1", plot.left)
        .attr("x2", plot.right)
        .attr("y1", py(lastClose))
        .attr("y2", py(lastClose))
        .attr("stroke", "#c0c0c0")
        .attr("shape-rendering", "crispEdges");

    // level labels
    var labelBar = 543.25;
    svg.append("g")
        .selectAll("text")
        .data(levelPrices)
        .enter()
        .append("text")
        .attr("x", xScale(labelBar))
        .attr("y", d => yScale(d) + 19.5)
        .attr("text-anchor", "middle")
        .attr("font-size", "21px")
        .attr("fill", (d, i) => levelColors[i])
        .text((d, i) => levelNames[i]);

    // candles
    var bars = svg.append("g").attr("shape-rendering", "crispEdges");
    bars.selectAll("line")
        .data(candles)
        .enter()
        .append("line")
        .attr("x1", (d, i) => xScale(i) + 0.5)
        .attr("x2", (d, i) => xScale(i) + 0.5)
        .attr("y1", d => py(d[1]))
        .attr("y2", d => py(d[2]))
        .attr("stroke", "#000");

    bars.selectAll("path")
        .data(candles)
        .enter()
        .append("path")
        .attr("d", (d, i) => {
            var x0 = xScale(i) - 0.5, x1 = xScale(i) + 1.5;
            var y0 = py(Math.max(d[0], d[3])), y1 = py(Math.min(d[0], d[3]));
            return "M" + x0 + "," + y0 + "H" + x1 + "V" + y1 + "H" + x0 + "Z";
        })
        .attr("fill", d => d[3] >= d[0] ? "#ffffff" : "#000000")
        .attr("stroke", "#000");

    // red cross marker
    var defs = svg.append("defs");
    defs.append("filter").attr("id", "shadow")
        .attr("x", "-50%").attr("y", "-50%").attr("width", "200%").attr("height", "200%")
        .append("feDropShadow")
        .attr("dx", 1).attr("dy", 3).attr("stdDeviation", 2)
        .attr("flood-color", "#000").attr("flood-opacity", 0.35);

    var mx = xScale(markerBar), my = yScale(markerPrice);
    svg.append("path")
        .attr("d", "M" + (mx - 14) + "," + (my - 12) + "L" + (mx + 14) + "," + (my + 12) +
                   "M" + (mx + 14) + "," + (my - 12) + "L" + (mx - 14) + "," + (my + 12))
        .attr("stroke", "#f0383f")
        .attr("stroke-width", 6)
        .attr("stroke-linecap", "round")
        .attr("fill", "none")
        .attr("filter", "url(#shadow)");

    // chart shift marker at the top
    var sx = xScale(candles.length + 0.25);
    svg.append("path")
        .attr("d", "M" + (sx - 9) + "," + 4 + "L" + (sx + 9) + "," + 4 + "L" + sx + "," + 14 + "Z")
        .attr("fill", "#c0c0c0");

    // frame
    var frame = svg.append("g").attr("shape-rendering", "crispEdges");
    frame.append("line").attr("x1", 0).attr("x2", w).attr("y1", 0.5).attr("y2", 0.5).attr("stroke", "#a0a0a0");
    frame.append("line").attr("x1", 0.5).attr("x2", 0.5).attr("y1", 0).attr("y2", h).attr("stroke", "#a0a0a0");
    frame.append("line").attr("x1", plot.left).attr("x2", plot.right).attr("y1", 2.5).attr("y2", 2.5).attr("stroke", "#505050");
    frame.append("line").attr("x1", plot.left + 0.5).attr("x2", plot.left + 0.5).attr("y1", 2).attr("y2", plot.bottom).attr("stroke", "#000");
    frame.append("rect").attr("x", w - 2).attr("y", 0).attr("width", 2).attr("height", h).attr("fill", "#e3e3e3");
    frame.append("rect").attr("x", 0).attr("y", h - 3).attr("width", w).attr("height", 3).attr("fill", "#e3e3e3");

    // right price axis
    var yAxis = d3.axisRight(yScale)
        .tickValues(priceTicks)
        .tickFormat(d3.format(".5f"))
        .tickSize(4)
        .tickPadding(6);

    var gy = svg.append("g")
        .attr("transform", "translate(" + (plot.right + 0.5) + ",0)")
        .call(yAxis);
    gy.select(".domain").remove();
    gy.selectAll(".tick").attr("transform", d => "translate(0," + py(d) + ")");
    gy.selectAll(".tick line").attr("stroke", "#000").attr("shape-rendering", "crispEdges");
    gy.selectAll(".tick text")
        .attr("font-family", font)
        .attr("font-size", "18px")
        .attr("fill", "#000");
    svg.append("line")
        .attr("x1", plot.right + 0.5).attr("x2", plot.right + 0.5)
        .attr("y1", 2).attr("y2", plot.bottom + 1)
        .attr("stroke", "#000").attr("shape-rendering", "crispEdges");

    // bottom time axis
    var labelBars = timeLabels.map((t, i) => i * barsPerLabel);
    var xAxis = d3.axisBottom(xScale)
        .tickValues(labelBars)
        .tickFormat((d, i) => timeLabels[i])
        .tickSize(4)
        .tickPadding(7);

    var gx = svg.append("g")
        .attr("transform", "translate(0," + (plot.bottom + 0.5) + ")")
        .call(xAxis);
    gx.select(".domain").remove();
    gx.selectAll(".tick").attr("transform", d => "translate(" + (xScale(d) + 0.5) + ",0)");
    gx.selectAll(".tick line").attr("stroke", "#000").attr("shape-rendering", "crispEdges");
    gx.selectAll(".tick text")
        .attr("text-anchor", "start")
        .attr("dx", 0.5)
        .attr("font-family", font)
        .attr("font-size", "18px")
        .attr("fill", "#000");
    svg.append("line")
        .attr("x1", plot.left).attr("x2", plot.right + 1)
        .attr("y1", plot.bottom + 0.5).attr("y2", plot.bottom + 0.5)
        .attr("stroke", "#000").attr("shape-rendering", "crispEdges");

    // coloured price boxes for the levels
    var boxes = svg.append("g");
    levelPrices.forEach((p, i) => {
        var ly = Math.round(yScale(p));
        boxes.append("rect")
            .attr("x", plot.right + 1)
            .attr("y", ly - 6)
            .attr("width", 80)
            .attr("height", 23)
            .attr("fill", levelColors[i]);
        boxes.append("text")
            .attr("x", plot.right + 10)
            .attr("y", ly + 13)
            .attr("font-size", "18px")
            .attr("fill", "#ffffff")
            .text(d3.format(".5f")(p));
    });

    // current price box
    var cy = Math.round(yScale(lastClose));
    boxes.append("rect")
        .attr("x", plot.right + 1)
        .attr("y", cy - 11)
        .attr("width", 80)
        .attr("height", 23)
        .attr("fill", "#000");
    boxes.append("text")
        .attr("x", plot.right + 10)
        .attr("y", cy + 7)
        .attr("font-size", "18px")
        .attr("fill", "#ffffff")
        .text(d3.format(".5f")(lastClose));

    // title in the top left corner
    var last = candles[candles.length - 1];
    svg.append("path")
        .attr("d", "M7,17L17,17L12,23Z")
        .attr("fill", "#000");
    svg.append("text")
        .attr("x", 29)
        .attr("y", 26)
        .attr("font-size", "18.5px")
        .attr("fill", "#000")
        .style("white-space", "pre")
        .text(symbolName + "  " + last.map(v => v.toFixed(5)).join(" "));
}

window.onload = init;
</script>
</body>
</html>
